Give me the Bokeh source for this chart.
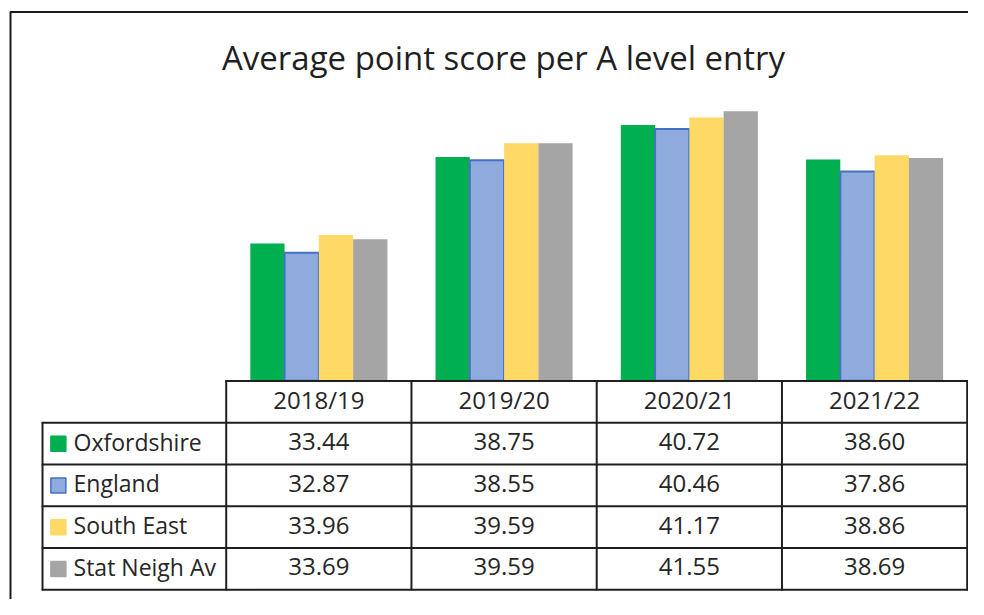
import numpy as np
from bokeh.plotting import figure
from bokeh.models import Range1d
from bokeh.core.properties import value
from bokeh.embed import file_html
from bokeh.resources import INLINE

# ---- data ----
title = "Average point score per A level entry"
years = ["2018/19", "2019/20", "2020/21", "2021/22"]
series_names = ["Oxfordshire", "England", "South East", "Stat Neigh Av"]
oxfordshire = [33.44, 38.75, 40.72, 38.60]
england = [32.87, 38.55, 40.46, 37.86]
south_east = [33.96, 39.59, 41.17, 38.86]
stat_neigh_av = [33.69, 39.59, 41.55, 38.69]
axis_min = 25

# ---- styles ----
fills = ["#00B050", "#8FAADC", "#FFD966", "#A5A5A5"]
lines = [None, "#4472C4", None, None]
key_lines = ["#00B050", "#4472C4", "#FFD966", "#A5A5A5"]
txt = "#262626"
grid_col = "#1f1f1f"
font = value("Open Sans")

p = figure(width=968, height=599,
           x_range=Range1d(-1.2184, 4.0070),
           y_range=Range1d(11.566, 48.360),
           output_backend="svg", toolbar_location=None,
           x_axis_type=None, y_axis_type=None, min_border=0)
p.extra_y_ranges = {"tbl": Range1d(5.232, -9.112)}
p.outline_line_color = None
p.background_fill_color = "white"

# outer border (cut at right and bottom like the reference)
p.quad(left=[-1.1644], right=[10], top=[47.654], bottom=[0],
       fill_color=None, line_color="#1a1a1a", line_width=2)

# title
p.text(x=[1.497], y=[44.85], text=[title], text_align="center",
       text_baseline="alphabetic", text_font=font, text_font_size="33px",
       text_color="#1f1f1f")

# bars
all_vals = [oxfordshire, england, south_east, stat_neigh_av]
n = len(years)
centers = np.arange(n) + 0.5
bw = 0.185
for k, vals in enumerate(all_vals):
    off = (k - 1.5) * bw
    p.vbar(x=centers + off, top=vals, bottom=axis_min, width=bw,
           fill_color=fills[k], line_color=lines[k],
           line_width=2 if lines[k] else 0)

# table grid
lab_left = -0.9916
nrows = len(series_names) + 1
hy = list(range(nrows + 1))
hx0 = [0] + [lab_left] * nrows
hx1 = [n] * (nrows + 1)
p.segment(x0=hx0, y0=hy, x1=hx1, y1=hy, y_range_name="tbl",
          line_color=grid_col, line_width=2, line_cap="round")
vx = [lab_left] + list(range(n + 1))
vy0 = [1] + [0] * (n + 1)
vy1 = [nrows] * (n + 2)
p.segment(x0=vx, y0=vy0, x1=vx, y1=vy1, y_range_name="tbl",
          line_color=grid_col, line_width=2, line_cap="round")

ty = 0.45  # text vertical position within a row

# header
p.text(x=centers, y=[ty] * n, text=years, y_range_name="tbl",
       text_align="center", text_baseline="middle", text_font=font,
       text_font_size="24px", text_color=txt)

# values
for k, vals in enumerate(all_vals):
    p.text(x=centers, y=[k + 1 + ty] * n, text=[f"{v:.2f}" for v in vals],
           y_range_name="tbl", text_align="center", text_baseline="middle",
           text_font=font, text_font_size="24px", text_color=txt)

# row labels with legend keys
ry = [k + 1 + ty for k in range(len(series_names))]
p.scatter(x=[-0.906] * len(series_names), y=[k + 1.5 for k in range(len(series_names))],
          y_range_name="tbl", marker="square", size=15, fill_color=fills,
          line_color=key_lines, line_width=1.5)
p.text(x=[-0.824] * len(series_names), y=ry, text=series_names,
       y_range_name="tbl", text_align="left", text_baseline="middle",
       text_font=font, text_font_size="23px", text_color=txt)

open("out.html", "w").write(file_html(p, INLINE))
